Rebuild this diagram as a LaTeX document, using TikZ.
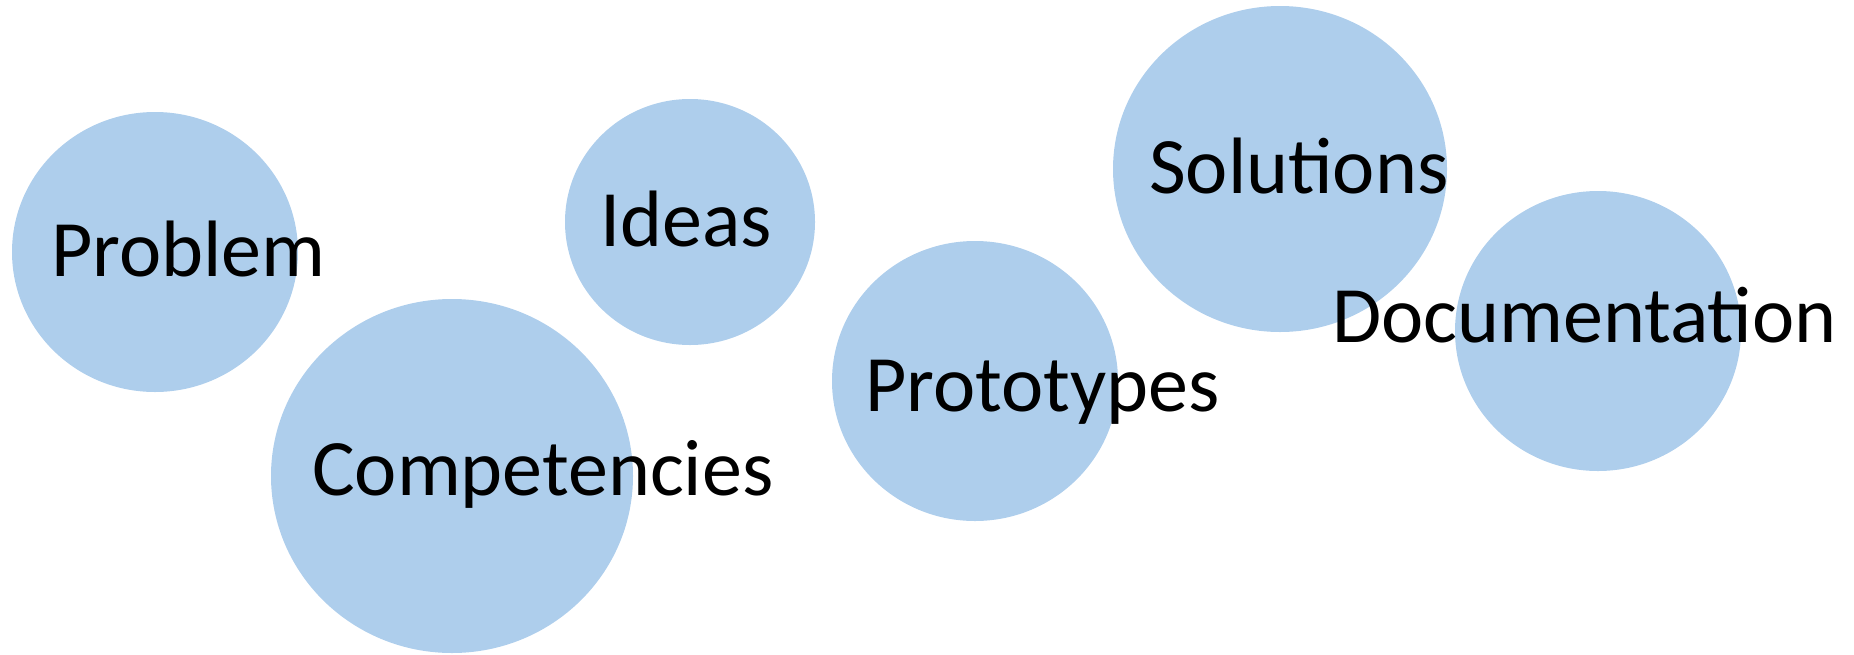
\documentclass[tikz,border=0pt]{standalone}
\usepackage{fontspec}
\setmainfont{Carlito}
\usetikzlibrary{shapes.geometric}
\definecolor{bubble}{RGB}{174,206,236}
\tikzset{
  blob/.style={ellipse, fill=bubble, draw=none, inner sep=0pt},
  word/.style={anchor=base west, inner sep=0pt, text=black, font=\fontsize{80}{96}\selectfont}
}
\begin{document}
\begin{tikzpicture}[x=1pt, y=-1pt]
\useasboundingbox (0,0) rectangle (1854,654);
\node[blob, minimum width=286pt, minimum height=280pt] (cprob) at (155,252) {};
\node[blob, minimum width=362pt, minimum height=354pt] (ccomp) at (452,476) {};
\node[blob, minimum width=250pt, minimum height=246pt] (cidea) at (690,222) {};
\node[blob, minimum width=286pt, minimum height=280pt] (cprot) at (975,381) {};
\node[blob, minimum width=334pt, minimum height=326pt] (csol) at (1280,169) {};
\node[blob, minimum width=286pt, minimum height=280pt] (cdoc) at (1598,331) {};
\node[word] (tprob) at (51,276) {Problem};
\node[word] (tcomp) at (312,495) {Competencies};
\node[word] (tidea) at (600,246) {Ideas};
\node[word] (tprot) at (865,411) {Prototypes};
\node[word] (tsol) at (1149,193) {Solutions};
\node[word] (tdoc) at (1332,342) {Documentation};
\end{tikzpicture}
\end{document}
